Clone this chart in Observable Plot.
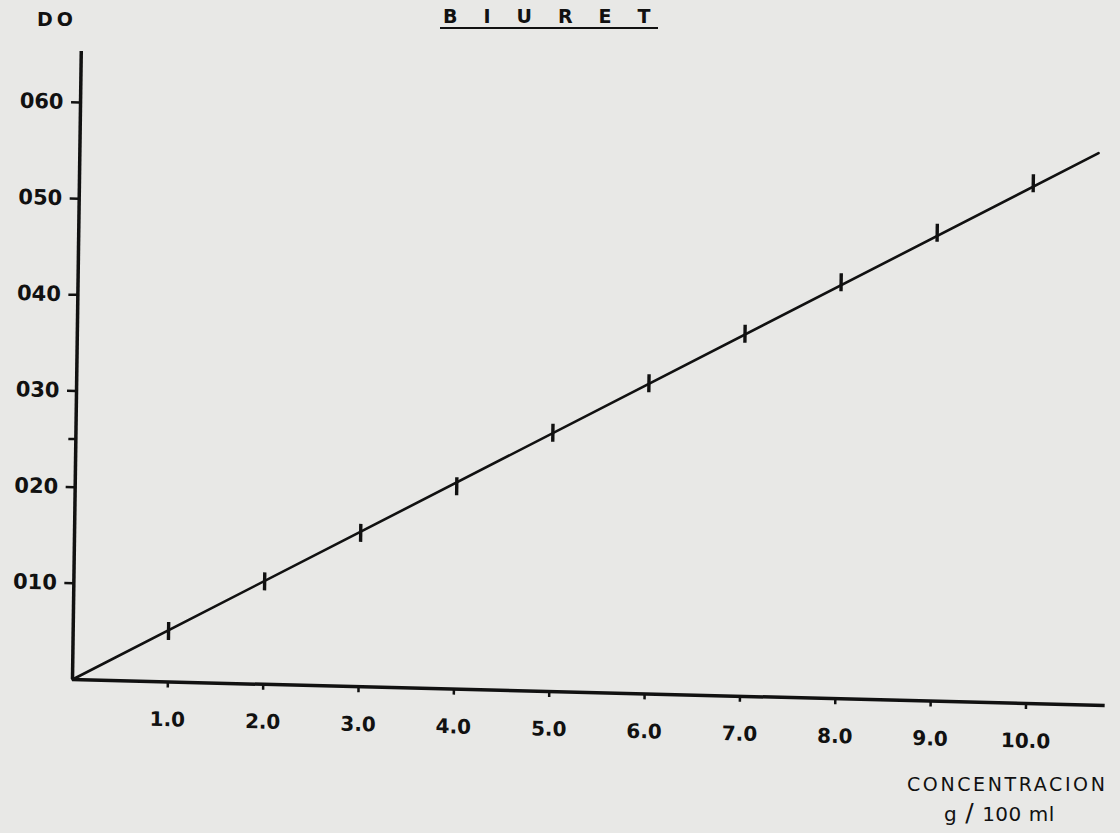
<!DOCTYPE html>
<html>
<head>
<meta charset="utf-8">
<script src="https://cdn.jsdelivr.net/npm/d3@7"></script>
<script src="https://cdn.jsdelivr.net/npm/@observablehq/plot@0.6"></script>
<style>
  html, body { margin: 0; padding: 0; background: #e8e8e6; }
  #wrap { position: relative; width: 1120px; height: 833px; overflow: hidden; background: #e8e8e6; font-family: "DejaVu Sans", sans-serif; color: #111; }
  #wrap svg { position: absolute; left: 0; top: 0; transform-origin: 72px 679px; transform: matrix(0.99968, 0.02513, -0.01396, 0.9999, 0, 0); }
  .lbl { position: absolute; white-space: nowrap; color: #111; line-height: 1; }
  #do { left: 37px; top: 10px; font-size: 19px; font-weight: bold; letter-spacing: 4px; }
  #title { left: 443px; top: 7px; font-size: 19px; font-weight: 600; letter-spacing: 26px; }
  #uline { position: absolute; left: 440px; top: 27px; width: 218px; height: 2px; background: #111; }
  #xl1 { left: 907px; top: 775px; font-size: 19px; font-weight: 500; letter-spacing: 2.6px; }
  #xl2 { left: 944px; top: 800px; font-size: 20px; font-weight: 500; letter-spacing: 0.5px; }
  #xl2 .sl { font-size: 25px; margin: 0 8px; font-weight: normal; }
</style>
</head>
<body>
<div id="wrap">
  <div class="lbl" id="do">DO</div>
  <div class="lbl" id="title">BIURET</div>
  <div id="uline"></div>
  <div class="lbl" id="xl1">CONCENTRACION</div>
  <div class="lbl" id="xl2">g<span class="sl">/</span>100 ml</div>
</div>
<script>
// Concentration (g/100 ml) of the measured points
const concentration = [1.0, 2.0, 3.0, 4.0, 5.0, 6.0, 7.0, 8.0, 9.0, 10.0];
// Optical density (DO) read for each point
const opticalDensity = [0.053, 0.107, 0.160, 0.211, 0.269, 0.323, 0.377, 0.433, 0.487, 0.541];
// Calibration line drawn through the points
const lineConcentration = [0, 10.68];
const lineDensity = [0, 0.574];
// Axis ticks and labels
const xTicks = [1, 2, 3, 4, 5, 6, 7, 8, 9, 10];
const xTickLabels = ["1.0", "2.0", "3.0", "4.0", "5.0", "6.0", "7.0", "8.0", "9.0", "10.0"];
const yTicks = [0.1, 0.2, 0.3, 0.4, 0.5, 0.6];
const yTickLabels = ["010", "020", "030", "040", "050", "060"];
const yMinorTicks = [0.25];

const points = concentration.map((c, i) => ({c, d: opticalDensity[i]}));
const fitLine = lineConcentration.map((c, i) => ({c, d: lineDensity[i]}));

const bar = {
  draw(context, size) {
    const r = Math.sqrt(size / Math.PI);
    context.moveTo(0, -r);
    context.lineTo(0, r);
  }
};

const chart = Plot.plot({
  width: 1120,
  height: 833,
  marginLeft: 72,
  marginRight: 15,
  marginTop: 51,
  marginBottom: 154,
  style: {background: "transparent", color: "#111", fontFamily: "DejaVu Sans, sans-serif"},
  x: {domain: [0, 10.83]},
  y: {domain: [0, 0.653]},
  marks: [
    Plot.axisX(xTicks, {
      tickSize: 6, tickPadding: 24, fontSize: 20, fontWeight: 600,
      strokeWidth: 2.5,
      tickFormat: (d) => xTickLabels[xTicks.indexOf(d)], label: null
    }),
    Plot.axisY(yTicks, {
      tickSize: 9, tickPadding: 8, fontSize: 21, fontWeight: 600, letterSpacing: "1px",
      strokeWidth: 2.5,
      tickFormat: (d) => yTickLabels[yTicks.indexOf(d)], label: null
    }),
    Plot.axisY(yMinorTicks, {tickSize: 7, strokeWidth: 2.5, tickFormat: () => "", label: null}),
    Plot.ruleY([0], {stroke: "#111", strokeWidth: 3.5}),
    Plot.ruleX([0], {stroke: "#111", strokeWidth: 3.5}),
    Plot.line(fitLine, {x: "c", y: "d", stroke: "#111", strokeWidth: 2.6}),
    Plot.dot(points, {x: "c", y: "d", symbol: bar, r: 9, fill: "none", stroke: "#111", strokeWidth: 3.4})
  ]
});
document.getElementById("wrap").appendChild(chart);
</script>
</body>
</html>
